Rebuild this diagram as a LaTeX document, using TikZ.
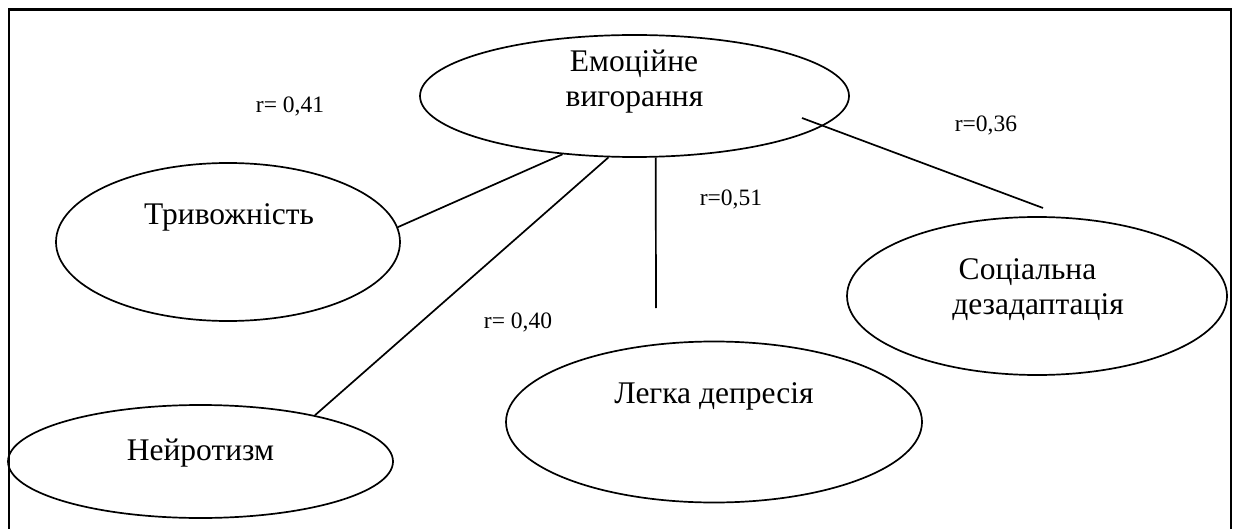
\documentclass[tikz,border=0pt]{standalone}
\usepackage{fontspec}
\setmainfont{Liberation Serif}
\usetikzlibrary{shapes.geometric}
\begin{document}
\begin{tikzpicture}[x=1pt,y=-1pt,
  oval/.style={draw, ellipse, line width=1.7pt, inner sep=0pt},
  edgeline/.style={line width=1.7pt},
  ovaltext/.style={font=\fontsize{31.5}{36}\selectfont, anchor=base, inner sep=0pt},
  coef/.style={font=\fontsize{23.5}{27}\selectfont, anchor=base, inner sep=0pt}]
\useasboundingbox (0,0) rectangle (1238,529);
% open frame around the scheme
\draw[line width=2.2pt] (9,531) -- (9,9.5) -- (1231,9.5) -- (1231,531);

% factors
\node[oval, minimum width=429pt, minimum height=122pt] (em) at (634.5,96) {};
\node[oval, minimum width=344pt, minimum height=158pt] (trv) at (228,242) {};
\node[oval, minimum width=385pt, minimum height=113pt] (neu) at (200.5,461.5) {};
\node[oval, minimum width=416pt, minimum height=161pt] (dep) at (714,422) {};
\node[oval, minimum width=380pt, minimum height=158pt] (soc) at (1037,296) {};

\node[ovaltext] (em-t1) at (634,72) {Емоційне};
\node[ovaltext] (em-t2) at (634.5,106.5) {вигорання};
\node[ovaltext] (trv-t) at (229,225) {Тривожність};
\node[ovaltext] (dep-t) at (714,403) {Легка депресія};
\node[ovaltext] (soc-t1) at (1027.5,279.5) {Соціальна};
\node[ovaltext] (soc-t2) at (1038,314.5) {дезадаптація};
\node[ovaltext] (neu-t) at (200.5,460.5) {Нейротизм};

% correlation links
\coordinate (dep-end) at (656,308);
\coordinate (soc-start) at (802,118);
\coordinate (soc-end) at (1043,208);
\draw[edgeline] (trv.5.4) -- (em.219);
\draw[edgeline] (neu.22) -- (em.247);
\draw[edgeline] (em.289.4) -- (dep-end);
\draw[edgeline] (soc-start) -- (soc-end);

% coefficients
\node[coef] (r41) at (290,113) {r= 0,41};
\node[coef] (r36) at (986,131.5) {r=0,36};
\node[coef] (r51) at (731,206) {r=0,51};
\node[coef] (r40) at (518,328) {r= 0,40};
\end{tikzpicture}
\end{document}
